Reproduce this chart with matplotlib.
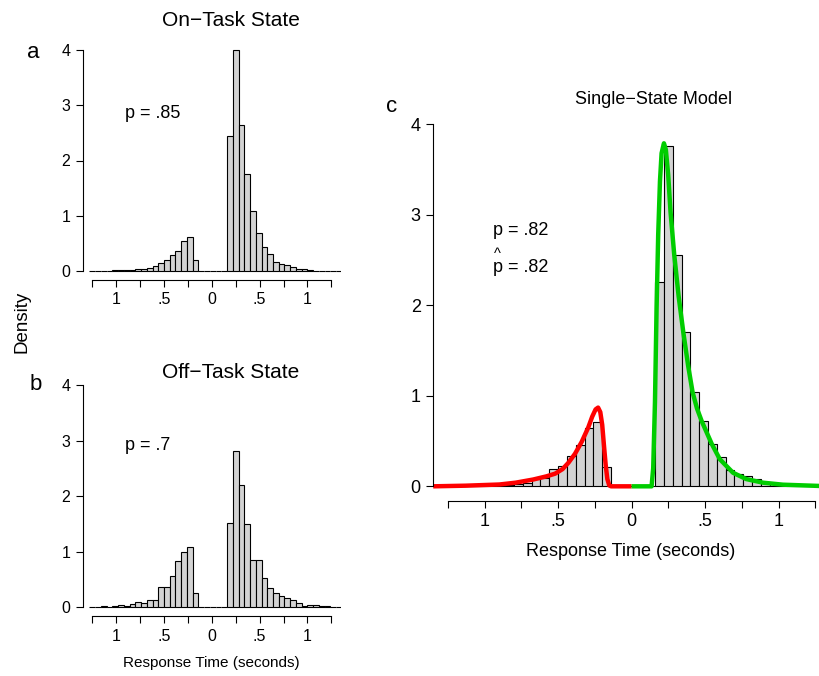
import numpy as np
import matplotlib
matplotlib.use("Agg")
import matplotlib.pyplot as plt

plt.rcParams["font.family"] = ["Liberation Sans", "DejaVu Sans"]

W, H = 820, 676

# histogram bins (seconds); errors plotted on the negative side
BIN_START = -1.28
BIN_WIDTH = 0.06
N_GAP = 5  # empty bins between the two modes

# densities, left to right
ON_ERR = [0.003, 0.005, 0.005, 0.005, 0.01, 0.01, 0.015, 0.02, 0.03, 0.04,
          0.06, 0.09, 0.14, 0.19, 0.28, 0.36, 0.55, 0.62, 0.20]
ON_COR = [2.45, 4.0, 2.65, 1.75, 1.09, 0.68, 0.44, 0.30, 0.16, 0.12,
          0.10, 0.07, 0.03, 0.03, 0.015, 0.005, 0.005, 0.005, 0.005, 0.005]

OFF_ERR = [0.01, 0.01, 0.02, 0.0, 0.015, 0.05, 0.03, 0.065, 0.09, 0.08,
           0.14, 0.14, 0.37, 0.36, 0.57, 0.84, 1.0, 1.08, 0.25]
OFF_COR = [1.52, 2.82, 2.20, 1.49, 0.85, 0.86, 0.53, 0.35, 0.25, 0.20,
           0.17, 0.14, 0.08, 0.03, 0.045, 0.035, 0.03, 0.025, 0.0, 0.01]

ONE_ERR = [0.001, 0.001, 0.002, 0.003, 0.005, 0.005, 0.01, 0.015, 0.025, 0.04,
           0.085, 0.09, 0.19, 0.22, 0.335, 0.455, 0.64, 0.715, 0.21]
ONE_COR = [2.26, 3.76, 2.56, 1.70, 1.04, 0.72, 0.47, 0.32, 0.18, 0.135,
           0.11, 0.085, 0.05, 0.03, 0.02, 0.01, 0.005, 0.003, 0.002, 0.001]

# model densities
ERR_X = [-1.35, -1.13, -0.90, -0.79, -0.67, -0.58, -0.52, -0.47, -0.43, -0.385,
         -0.34, -0.295, -0.268, -0.245, -0.228, -0.213, -0.200, -0.188, -0.176,
         -0.165, -0.152, -0.14, 0.0]
ERR_Y = [0.0, 0.007, 0.02, 0.04, 0.075, 0.11, 0.14, 0.19, 0.26, 0.36,
         0.49, 0.65, 0.77, 0.85, 0.87, 0.82, 0.68, 0.45, 0.23,
         0.08, 0.01, 0.0, 0.0]
COR_X = [0.0, 0.136, 0.147, 0.159, 0.170, 0.181, 0.193, 0.204, 0.220, 0.233,
         0.249, 0.265, 0.29, 0.32, 0.352, 0.385, 0.415, 0.445, 0.477, 0.545,
         0.60, 0.69, 0.78, 0.895, 1.03, 1.28, 1.40]
COR_Y = [0.0, 0.0, 0.2, 0.93, 1.97, 2.78, 3.37, 3.68, 3.79, 3.72,
         3.44, 3.03, 2.56, 2.10, 1.70, 1.33, 1.04, 0.86, 0.72, 0.47,
         0.30, 0.15, 0.08, 0.04, 0.018, 0.004, 0.002]

XTICKS = [-1.25, -1.0, -0.75, -0.5, -0.25, 0.0, 0.25, 0.5, 0.75, 1.0, 1.25]
XTICKLABELS = ["", "1", "", ".5", "", "0", "", ".5", "", "1", ""]
YTICKS = [0, 1, 2, 3, 4]


def box(left, top, right, bottom):
    return [left / W, 1 - bottom / H, (right - left) / W, (bottom - top) / H]


def px(x, y):
    return x / W, 1 - y / H


def draw_hist(ax, err, cor, ticksize):
    heights = list(err) + [0.0] * N_GAP + list(cor)
    edges = BIN_START + BIN_WIDTH * np.arange(len(heights))
    ax.bar(edges, heights, width=BIN_WIDTH, align="edge", color="#d3d3d3",
           edgecolor="black", linewidth=0.8)
    ax.set_xlim(-1.35, 1.35)
    ax.set_ylim(-0.16, 4.16)
    ax.set_xticks(XTICKS)
    ax.set_xticklabels(XTICKLABELS)
    ax.set_yticks(YTICKS)
    for s in ("top", "right"):
        ax.spines[s].set_visible(False)
    ax.spines["left"].set_bounds(0, 4)
    ax.spines["bottom"].set_bounds(-1.25, 1.25)
    for s in ("left", "bottom"):
        ax.spines[s].set_linewidth(0.8)
    ax.tick_params(direction="out", length=5, width=0.8, labelsize=ticksize, pad=4)


def main():
    fig = plt.figure(figsize=(W / 100, H / 100), dpi=100)

    ax_a = fig.add_axes(box(82.7, 41.2, 340.9, 279.8))
    draw_hist(ax_a, ON_ERR, ON_COR, 11.5)
    ax_b = fig.add_axes(box(82.7, 376.1, 340.9, 616.2))
    draw_hist(ax_b, OFF_ERR, OFF_COR, 11.5)
    ax_c = fig.add_axes(box(433.2, 109.8, 830.0, 500.8))
    draw_hist(ax_c, ONE_ERR, ONE_COR, 13)
    ax_c.plot(ERR_X, ERR_Y, color="#ff0000", lw=3.2, solid_capstyle="butt")
    ax_c.plot(COR_X, COR_Y, color="#00cd00", lw=3.2, solid_capstyle="butt")

    fig.text(*px(231, 20), "On\u2212Task State", fontsize=15, ha="center", va="center")
    fig.text(*px(231, 373), "Off\u2212Task State", fontsize=15, ha="center", va="center")
    fig.text(*px(654, 100), "Single\u2212State Model", fontsize=13, ha="center", va="center")

    fig.text(*px(33, 52), "a", fontsize=16, ha="center", va="center")
    fig.text(*px(36, 385), "b", fontsize=16, ha="center", va="center")
    fig.text(*px(392, 107), "c", fontsize=16, ha="center", va="center")

    fig.text(*px(22, 322), "Density", fontsize=13.5, rotation=90, ha="center", va="center")

    fig.text(*px(125, 113), "p = .85", fontsize=13, ha="left", va="center")
    fig.text(*px(125, 445), "p = .7", fontsize=13, ha="left", va="center")
    fig.text(*px(493, 230), "p = .82", fontsize=13, ha="left", va="center")
    fig.text(*px(493, 268), "p = .82", fontsize=13, ha="left", va="center")
    # hat over the p of the fitted value
    fig.text(*px(497.5, 254), "^", fontsize=10.5, ha="center", va="center")

    fig.text(*px(211.5, 663), "Response Time (seconds)", fontsize=11, ha="center", va="center")
    fig.text(*px(631, 551), "Response Time (seconds)", fontsize=13, ha="center", va="center")

    fig.savefig("out.png", dpi=100)
    plt.close(fig)


if __name__ == "__main__":
    main()
